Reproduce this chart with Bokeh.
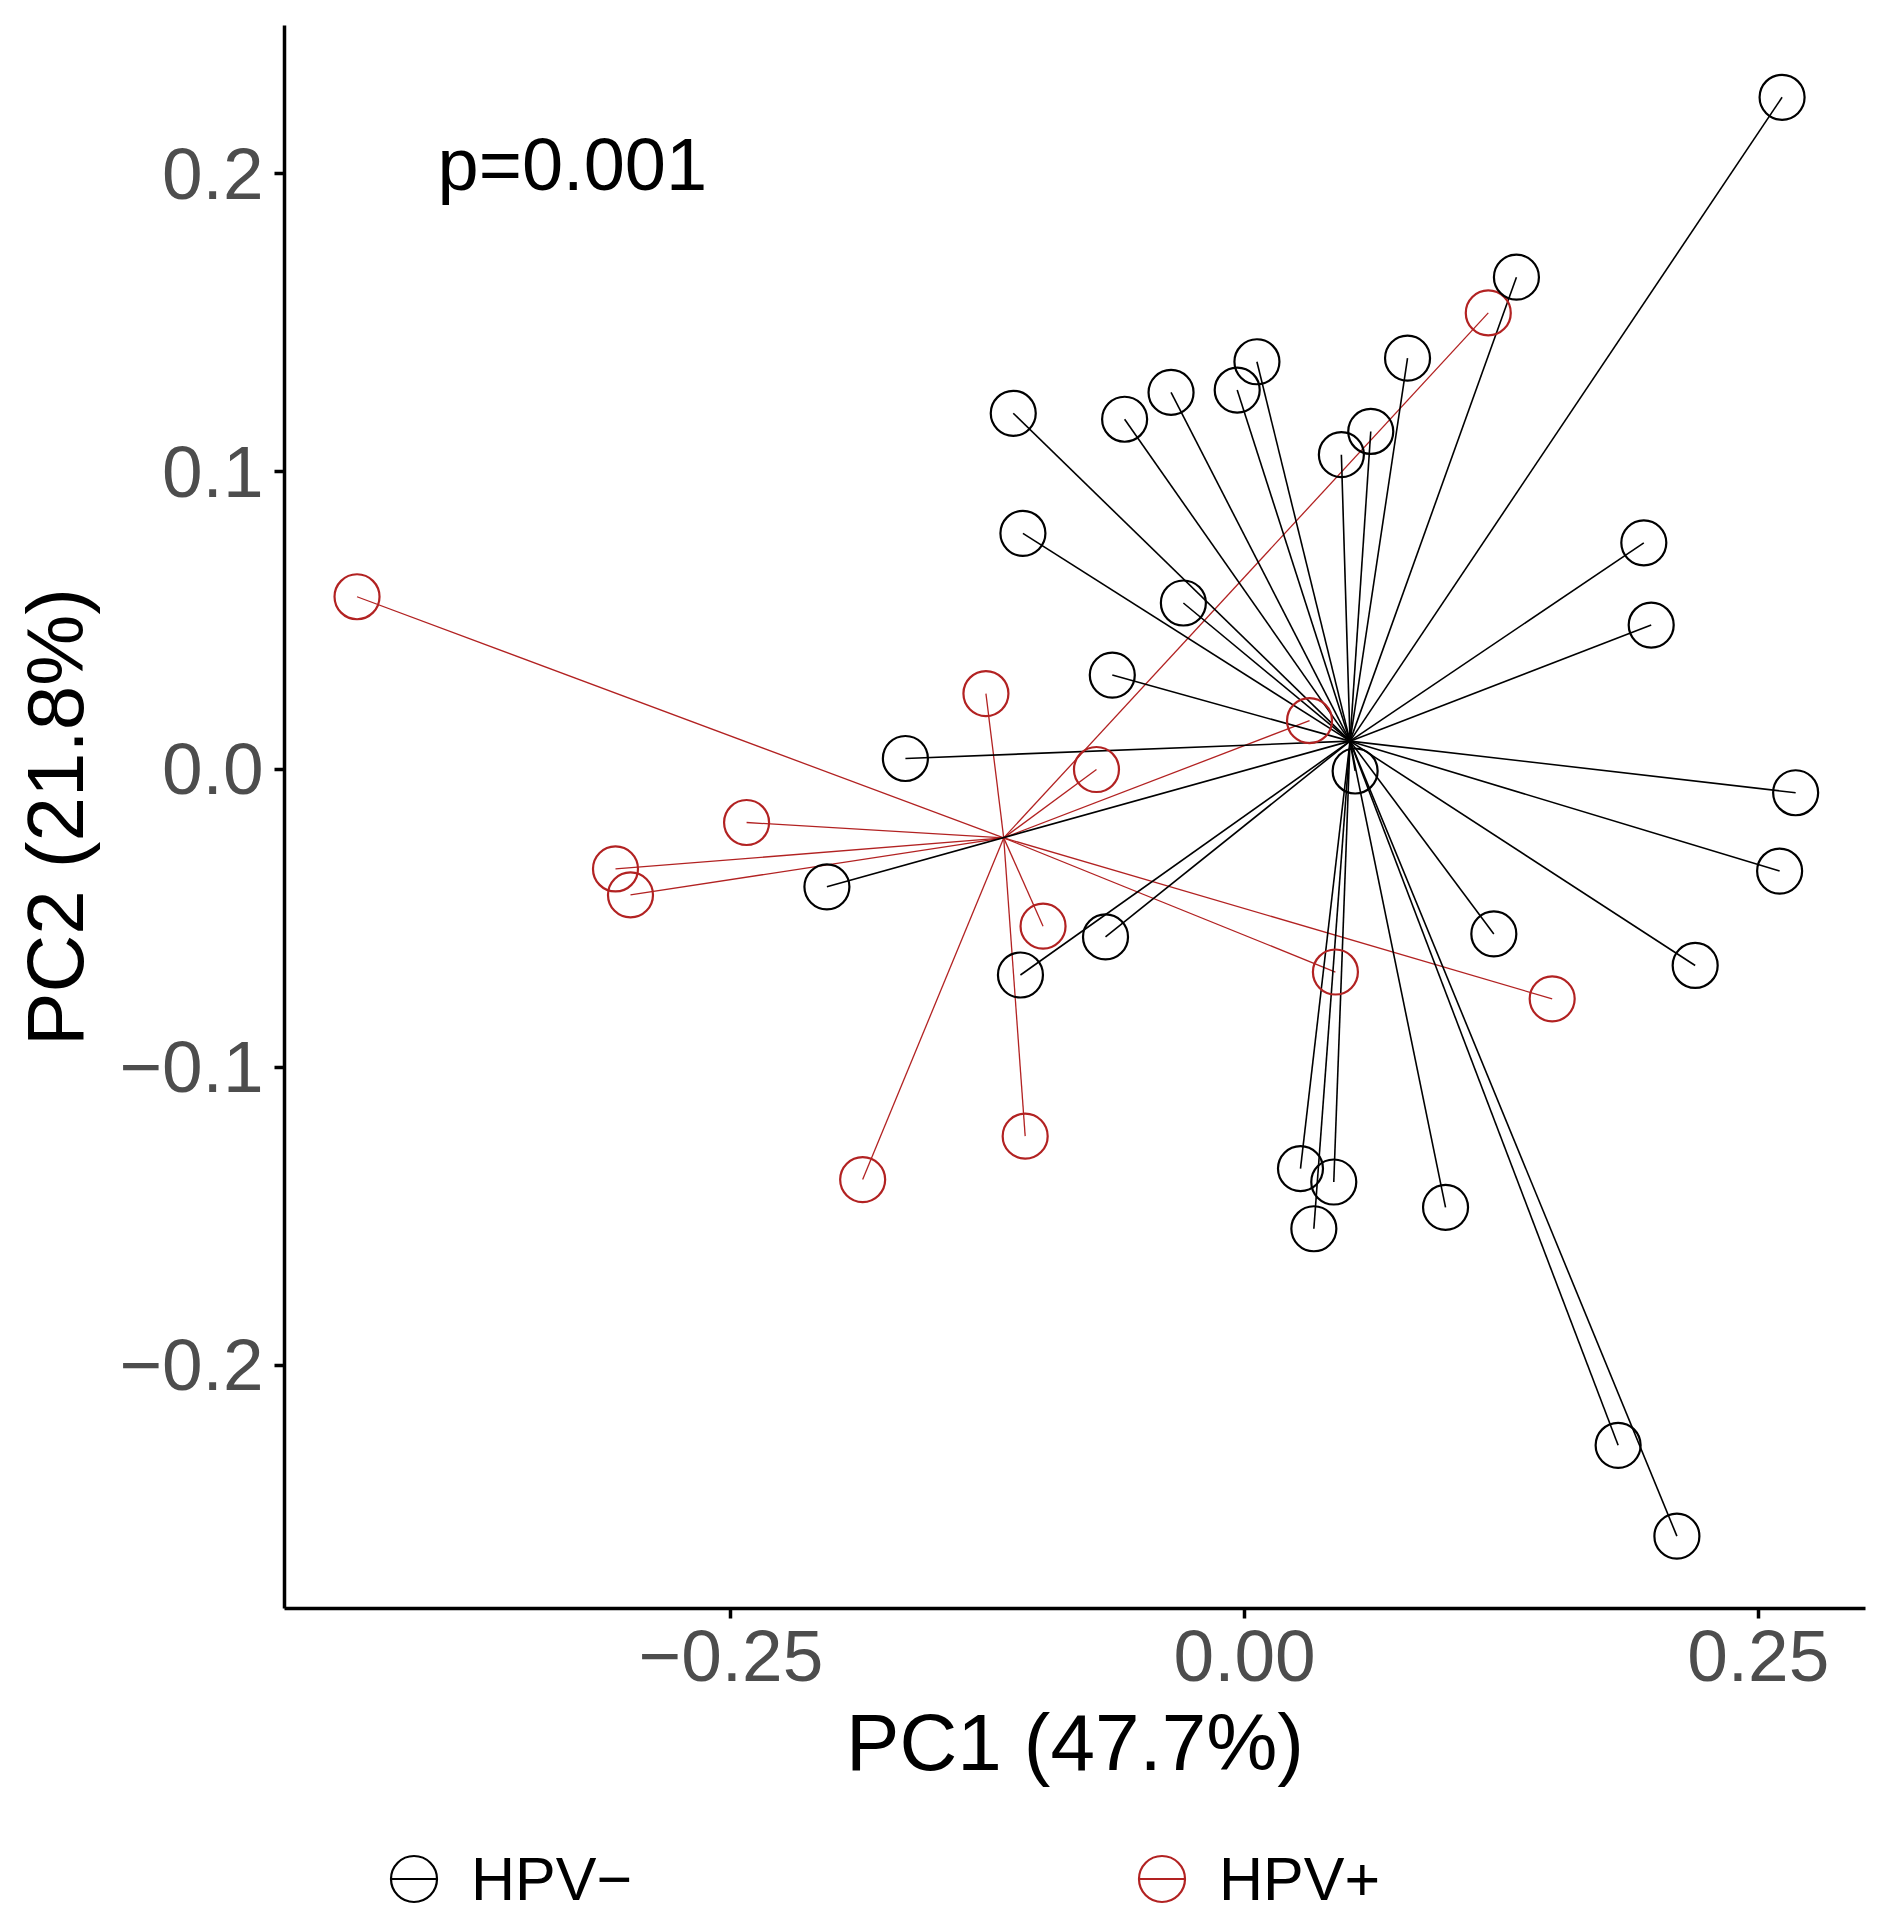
import numpy as np
from bokeh.plotting import figure
from bokeh.layouts import column
from bokeh.models import (Range1d, FixedTicker, Label, Legend, LegendItem,
                          ColumnDataSource)
from bokeh.embed import file_html
from bokeh.resources import INLINE

# ---------------- data ----------------
groups = ["HPV−", "HPV+"]
group_colors = ["#000000", "#B22222"]

hpv_neg_pc1 = [0.2616, 0.1323, 0.0060, 0.0793, -0.0036, -0.0358, -0.0584, -0.1126,
               0.0614, 0.0471, -0.1079, 0.1943, 0.1979, -0.0298, -0.0644, -0.1651,
               0.2682, 0.2604, -0.2033, 0.1213, 0.2193, -0.0677, -0.1091, 0.0272,
               0.0434, 0.0337, 0.0978, 0.1818, 0.2104, 0.0538]
hpv_neg_pc2 = [0.2257, 0.1653, 0.1369, 0.1381, 0.1274, 0.1266, 0.1176, 0.1196,
               0.1135, 0.1057, 0.0793, 0.0761, 0.0485, 0.0559, 0.0317, 0.0037,
               -0.0078, -0.0341, -0.0394, -0.0552, -0.0658, -0.0562, -0.0690, -0.1340,
               -0.1385, -0.1542, -0.1470, -0.2269, -0.2574, -0.0005]

hpv_pos_pc1 = [-0.4320, -0.1259, -0.0721, 0.1186, 0.0316, -0.2424, -0.3062, -0.2989,
               -0.0981, 0.0442, 0.1497, -0.1068, -0.1859]
hpv_pos_pc2 = [0.0580, 0.0255, 0.0000, 0.1533, 0.0164, -0.0178, -0.0334, -0.0421,
               -0.0526, -0.0680, -0.0770, -0.1231, -0.1377]

x_ticks = [-0.25, 0.0, 0.25]
x_tick_labels = ["−0.25", "0.00", "0.25"]
y_ticks = [-0.2, -0.1, 0.0, 0.1, 0.2]
y_tick_labels = ["−0.2", "−0.1", "0.0", "0.1", "0.2"]

x_title = "PC1 (47.7%)"
y_title = "PC2 (21.8%)"
p_text = "p=0.001"

# ---------------- main figure ----------------
FONT = "Liberation Sans"
W = 1884
H_MAIN = 1828
H_LEG = 88
FRAME_LEFT = 284

p = figure(width=W, height=H_MAIN, output_backend="svg", toolbar_location=None,
           x_range=Range1d(-0.4673, 0.3022), y_range=Range1d(-0.2817, 0.2498),
           min_border_left=FRAME_LEFT, min_border_right=W - 1865, min_border_top=25,
           min_border_bottom=H_MAIN - 1608)
p.grid.visible = False
p.outline_line_color = None
p.background_fill_color = "white"
p.border_fill_color = "white"

for ax in (p.xaxis[0], p.yaxis[0]):
    ax.axis_line_width = 3.5
    ax.axis_line_color = "black"
    ax.major_tick_line_width = 3.5
    ax.major_tick_line_color = "black"
    ax.major_tick_out = 10
    ax.major_tick_in = 0
    ax.minor_tick_line_color = None
    ax.major_label_text_font = FONT
    ax.major_label_text_font_size = "73px"
    ax.major_label_text_color = "#4D4D4D"
    ax.axis_label_text_font = FONT
    ax.axis_label_text_font_size = "80px"
    ax.axis_label_text_font_style = "normal"
    ax.axis_label_text_color = "black"

p.xaxis[0].ticker = FixedTicker(ticks=x_ticks)
p.xaxis[0].major_label_overrides = dict(zip(x_ticks, x_tick_labels))
p.xaxis[0].major_label_standoff = 12
p.xaxis[0].axis_label = x_title
p.xaxis[0].axis_label_standoff = 14

p.yaxis[0].ticker = FixedTicker(ticks=y_ticks)
p.yaxis[0].major_label_overrides = dict(zip(y_ticks, y_tick_labels))
p.yaxis[0].major_label_standoff = 11
p.yaxis[0].axis_label = y_title
p.yaxis[0].axis_label_standoff = 16

# ---------------- spider (segments to group centroid) ----------------
series = [(hpv_neg_pc1, hpv_neg_pc2), (hpv_pos_pc1, hpv_pos_pc2)]
line_widths = [1.6, 1.3]

# red group first, black on top
for gi in (1, 0):
    xs, ys = series[gi]
    cx, cy = float(np.mean(xs)), float(np.mean(ys))
    src = ColumnDataSource(dict(x0=[cx] * len(xs), y0=[cy] * len(ys), x1=xs, y1=ys))
    p.segment(x0="x0", y0="y0", x1="x1", y1="y1", source=src,
              line_color=group_colors[gi], line_width=line_widths[gi])

for gi in (1, 0):
    xs, ys = series[gi]
    p.ellipse(x=xs, y=ys, width=45, height=45,
              width_units="screen", height_units="screen",
              fill_color=None, line_color=group_colors[gi], line_width=2.2)

p.add_layout(Label(x=-0.3928, y=0.2032, text=p_text, text_font=FONT,
                   text_font_size="74px", text_color="black",
                   text_baseline="alphabetic"))

# ---------------- legend strip ----------------
lg = figure(width=W, height=H_LEG, output_backend="svg", toolbar_location=None,
            x_range=Range1d(0, 1), y_range=Range1d(0, 1),
            x_axis_location=None, y_axis_location=None,
            min_border_left=0, min_border_right=0, min_border_top=0,
            min_border_bottom=0)
lg.grid.visible = False
lg.outline_line_color = None
lg.background_fill_color = "white"
lg.border_fill_color = "white"

items = []
for gi in (0, 1):
    # legend keys only (kept outside the visible range)
    c = lg.scatter(x=[-5], y=[-5], marker="circle", size=45, fill_color=None,
                   line_color=group_colors[gi], line_width=2.2)
    d = lg.scatter(x=[-5], y=[-5], marker="dash", size=45,
                   line_color=group_colors[gi], line_width=2.2)
    items.append(LegendItem(label=groups[gi], renderers=[c, d]))

# column() aligns the frames, so the strip's frame starts at FRAME_LEFT
legend = Legend(items=items, orientation="horizontal", location=(356 - FRAME_LEFT, -20),
                glyph_width=115, glyph_height=115, label_standoff=0, label_width=200,
                spacing=433, padding=0, margin=0,
                label_text_font=FONT, label_text_font_size="61px",
                label_text_color="black", label_text_baseline="middle",
                border_line_alpha=0, background_fill_alpha=0)
lg.add_layout(legend, "center")

layout = column(p, lg, spacing=0)
open("out.html", "w").write(file_html(layout, INLINE))
